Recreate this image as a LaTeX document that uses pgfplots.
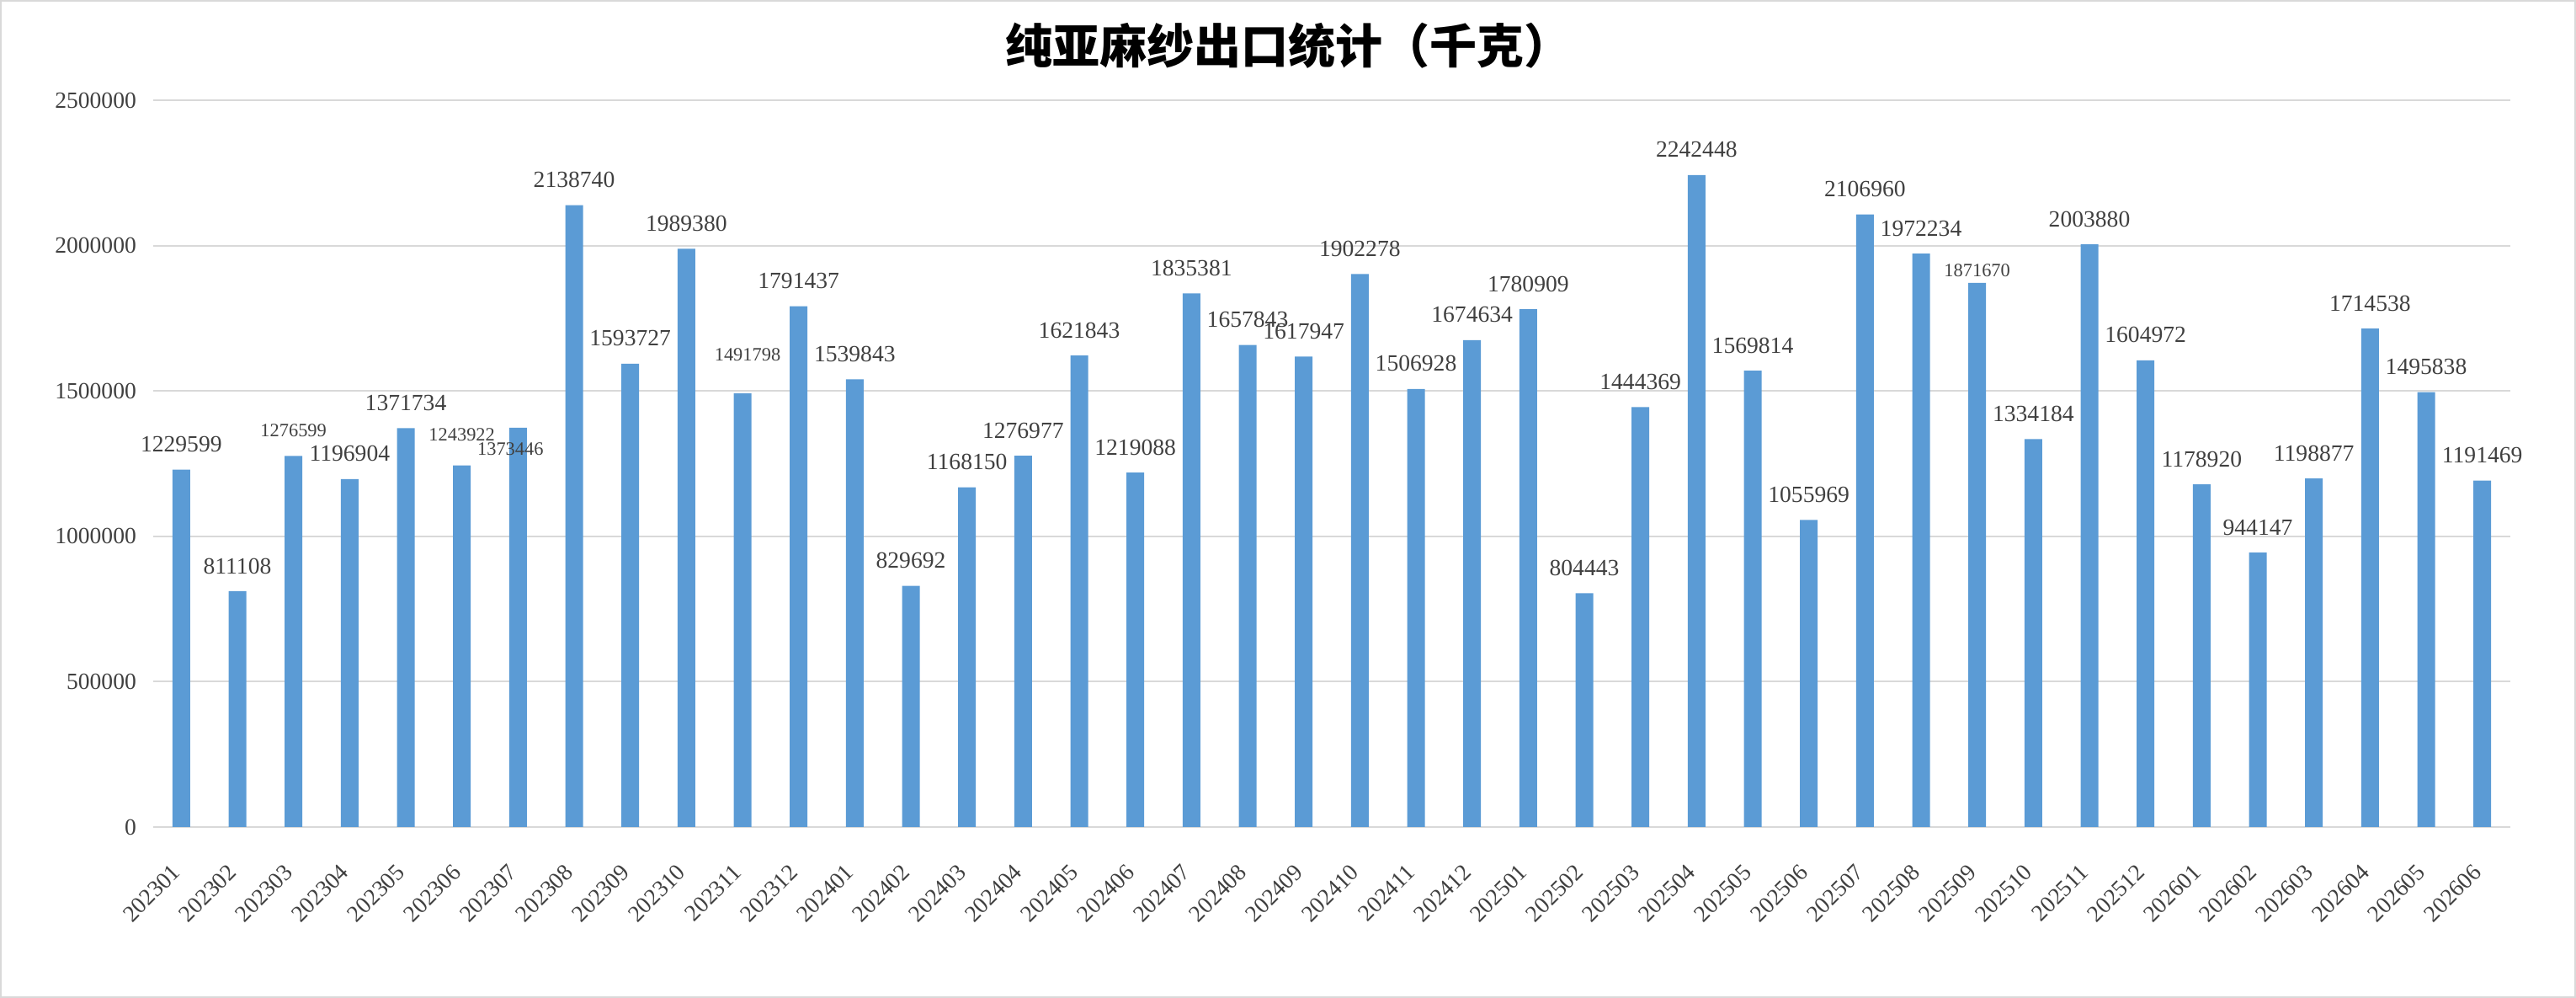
\documentclass[border=0pt]{standalone}
\usepackage{pgfplots}
\pgfplotsset{compat=1.18}
\usepackage{pgfplotstable}
\usepackage{fontspec}
\setmainfont{Liberation Serif}
\newfontfamily\cjk{Noto Sans CJK SC}
\definecolor{barblue}{HTML}{5B9BD5}
\definecolor{gridgray}{HTML}{D9D9D9}
\definecolor{txt}{HTML}{404040}
\pgfplotstableread{
x y dx dy fs
0 1229599 0 7.5 6.9
1 811108 0 7.5 6.9
2 1276599 0 7.5 5.6
3 1196904 0 7.5 6.9
4 1371734 0 7.5 6.9
5 1243922 0 9 5.6
6 1373446 -2.25 -6.25 5.6
7 2138740 0 7.5 6.9
8 1593727 0 7.5 6.9
9 1989380 0 7.5 6.9
10 1491798 1.5 11.5 5.6
11 1791437 0 7.5 6.9
12 1539843 0 7.5 6.9
13 829692 0 7.5 6.9
14 1168150 0 7.5 6.9
15 1276977 0 7.5 6.9
16 1621843 0 7.5 6.9
17 1219088 0 7.5 6.9
18 1835381 0 7.5 6.9
19 1657843 0 7.5 6.9
20 1617947 0 7.5 6.9
21 1902278 0 7.5 6.9
22 1506928 0 7.5 6.9
23 1674634 0 7.5 6.9
24 1780909 0 7.5 6.9
25 804443 0 7.5 6.9
26 1444369 0 7.5 6.9
27 2242448 0 7.5 6.9
28 1569814 0 7.5 6.9
29 1055969 0 7.5 6.9
30 2106960 0 7.5 6.9
31 1972234 0 7.5 6.9
32 1871670 0 3.75 5.6
33 1334184 0 7.5 6.9
34 2003880 0 7.5 6.9
35 1604972 0 7.5 6.9
36 1178920 0 7.5 6.9
37 944147 0 7.5 6.9
38 1198877 0 7.5 6.9
39 1714538 0 7.5 6.9
40 1495838 0 7.5 6.9
41 1191469 0 7.5 6.9
}\datatable
\begin{document}
\begin{tikzpicture}
\path[use as bounding box] (0,0) rectangle (765pt,296.25pt);
\draw[gridgray, line width=0.6pt] (0.3pt,0.3pt) rectangle (764.7pt,295.95pt);
\node[font=\cjk\bfseries\fontsize{14}{16}\selectfont, text=black, inner sep=0pt] at (382.5pt,282.75pt) {纯亚麻纱出口统计（千克）};
\begin{axis}[
  at={(45.5pt,50.75pt)}, anchor=south west,
  scale only axis, width=700pt, height=215.75pt,
  xmin=-0.5, xmax=41.5, ymin=0, ymax=2500000,
  axis line style={draw=none},
  major tick style={draw=none},
  ymajorgrids, grid style={gridgray, line width=0.5pt},
  ytick={0,500000,1000000,1500000,2000000,2500000},
  scaled y ticks=false,
  yticklabel style={/pgf/number format/fixed, /pgf/number format/precision=0, /pgf/number format/1000 sep={}, /pgf/number format/assume math mode=true, font=\fontsize{6.9}{8}\selectfont, text=txt, xshift=-1.5pt},
  xtick={0,...,41},
  xticklabels={202301,202302,202303,202304,202305,202306,202307,202308,202309,202310,202311,202312,202401,202402,202403,202404,202405,202406,202407,202408,202409,202410,202411,202412,202501,202502,202503,202504,202505,202506,202507,202508,202509,202510,202511,202512,202601,202602,202603,202604,202605,202606},
  xticklabel style={yshift=-9.8pt, xshift=1pt, rotate=45, anchor=east, font=\fontsize{6.9}{8}\selectfont, text=txt},
  clip=false,
]
\addplot[ybar, fill=barblue, draw=none, bar width=5.25pt,
  point meta=explicit symbolic,
  visualization depends on={\thisrow{dx} \as \lblx},
  visualization depends on={\thisrow{dy} \as \lbly},
  visualization depends on={\thisrow{fs} \as \lblfs},
  nodes near coords,
  nodes near coords style={font=\fontsize{\lblfs}{\lblfs}\selectfont, text=txt, anchor=center, inner sep=0pt, xshift=\lblx pt, yshift=\lbly pt},
] table[x=x, y=y, meta=y] {\datatable};
\end{axis}
\end{tikzpicture}
\end{document}
